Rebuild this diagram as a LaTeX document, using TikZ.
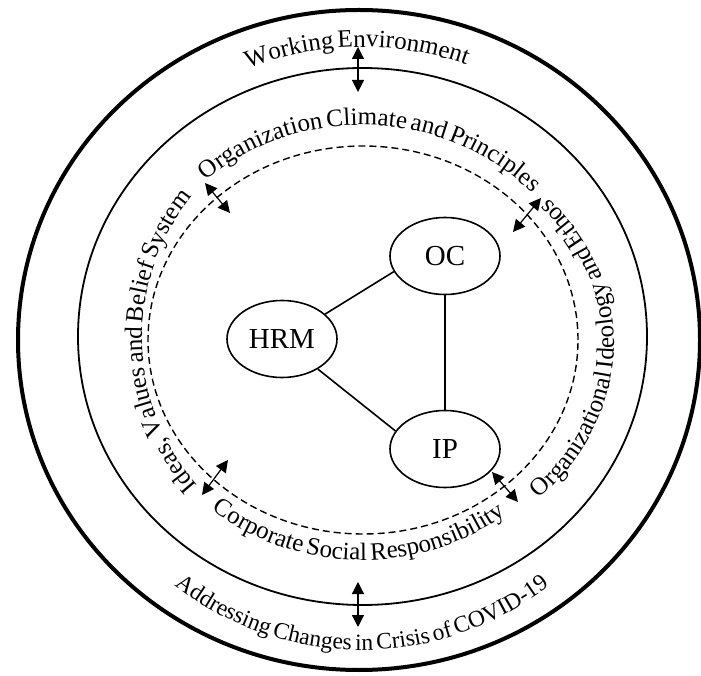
\documentclass[tikz,border=0pt]{standalone}
\usepackage{fontspec}
\setmainfont{Liberation Serif}
\newfontfamily\ringfam[WordSpace=0.6]{Liberation Serif}
\usetikzlibrary{decorations.text,arrows.meta,shapes.geometric}
\begin{document}
\begin{tikzpicture}[x=1pt,y=1pt,
  nd/.style={draw, ellipse, line width=1.6pt, minimum width=110pt, minimum height=77pt, inner sep=0pt, font=\fontsize{29}{32}\selectfont},
  link/.style={line width=1.6pt},
  dbl/.style={line width=1.2pt, {Triangle[length=12pt,width=12pt]}-{Triangle[length=12pt,width=12pt]}}
]
\useasboundingbox (0,0) rectangle (701,675);
\coordinate (C) at (362,337);
\coordinate (C2) at (362,331);
% rings
\draw[line width=4pt] (359,335) ellipse [x radius=341pt, y radius=330pt];
\draw[line width=1.8pt] (362.5,338.5) ellipse [x radius=284.5pt, y radius=268.5pt];
\draw[line width=1.4pt, dash pattern=on 7pt off 4pt] (363,335) ellipse [x radius=215pt, y radius=194pt];
% nodes
\node[nd] (HRM) at (282,336) {HRM};
\node[nd] (OC) at (445,419) {OC};
\node[nd] (IP) at (445,226) {IP};
\draw[link] (HRM.30) -- (OC.197);
\draw[link] (HRM.-40) -- (IP.160);
\draw[link] (OC.south) -- (IP.north);
% arrows
\coordinate (t1) at (358,628); \coordinate (t2) at (358,583);
\coordinate (b1) at (358,93);  \coordinate (b2) at (358,48);
\coordinate (ul1) at (205,492); \coordinate (ul2) at (230,462);
\coordinate (ur1) at (541,477); \coordinate (ur2) at (513,443);
\coordinate (ll1) at (228,215); \coordinate (ll2) at (202,180);
\coordinate (lr1) at (492,203); \coordinate (lr2) at (518,173);
\draw[dbl] (t1) -- (t2);
\draw[dbl] (b1) -- (b2);
\draw[dbl] (ul1) -- (ul2);
\draw[dbl] (ur1) -- (ur2);
\draw[dbl] (ll1) -- (ll2);
\draw[dbl] (lr1) -- (lr2);
% ring texts
\path[decorate, decoration={text along path, text align=center,
  text={|\ringfam\fontsize{25}{29}\selectfont|Working Environment}}]
  (C) ++({302*cos(171)},{291*sin(171)}) arc[start angle=171, end angle=11, x radius=302pt, y radius=291pt];
\path[decorate, decoration={text along path, text align=center,
  text={|\ringfam\fontsize{25}{29}\selectfont|Organization Climate and Principles}}]
  (C) ++({232*cos(167.5)},{213*sin(167.5)}) arc[start angle=167.5, end angle=7.5, x radius=232pt, y radius=213pt];
\path[decorate, decoration={text along path, text align=center,
  text={|\ringfam\fontsize{25}{29}\selectfont|Ideas, Values and Belief System}}]
  (C) ++({220*cos(261)},{222*sin(261)}) arc[start angle=261, end angle=101, x radius=220pt, y radius=222pt];
\path[decorate, decoration={text along path, text align=center,
  text={|\ringfam\fontsize{25}{29}\selectfont|Organizational Ideology and Ethos}}]
  (C2) ++({252*cos(-81.5)},{217*sin(-81.5)}) arc[start angle=-81.5, end angle=78.5, x radius=252pt, y radius=217pt];
\path[decorate, decoration={text along path, text align=center,
  text={|\ringfam\fontsize{25}{29}\selectfont|Corporate Social Responsibility}}]
  (C) ++({237*cos(-171)},{222*sin(-171)}) arc[start angle=-171, end angle=-11, x radius=237pt, y radius=222pt];
\path[decorate, decoration={text along path, text align=center,
  text={|\ringfam\fontsize{23.5}{27}\selectfont|Addressing Changes in Crisis of COVID-19}}]
  (C) ++({308*cos(-170)},{312*sin(-170)}) arc[start angle=-170, end angle=-10, x radius=308pt, y radius=312pt];
\end{tikzpicture}
\end{document}
